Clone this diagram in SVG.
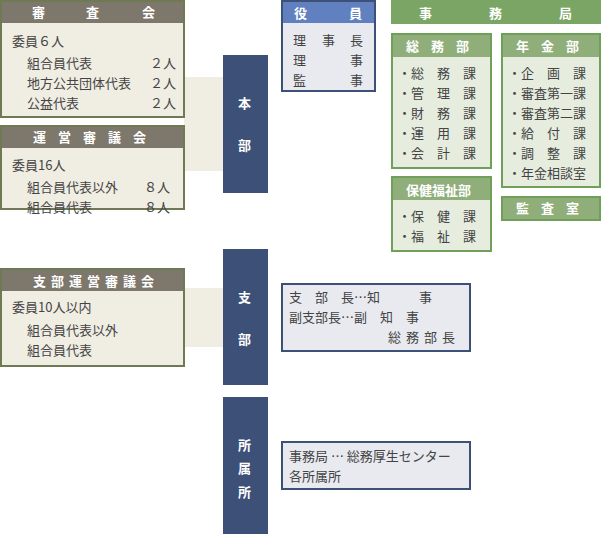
<svg xmlns="http://www.w3.org/2000/svg" width="601" height="534" viewBox="0 0 601 534">
<style>
text{font-family:"Noto Sans CJK JP","Noto Sans CJK SC",sans-serif;font-size:13px;fill:#444}
.h{fill:#fff;font-weight:bold}
.cb{fill:#f0ede3;stroke:#6f7a55;stroke-width:2}
.ch{fill:#7e786c}
.bl{fill:#3c5078}
.ob{fill:#e9eaf0;stroke:#3c5078;stroke-width:2}
.gb{fill:#e6eddf;stroke:#6fa05a;stroke-width:2}
.gh{fill:#8fae7a}
.gh2{fill:#7ba564}
</style>
<g id="connectors">
<rect x="184" y="77" width="40" height="94" fill="#f0ede3"/>
<rect x="184" y="288" width="40" height="59" fill="#f0ede3"/>
</g>
<g id="shinsakai">
<rect class="cb" x="1" y="1" width="183" height="116"/>
<rect class="ch" x="2" y="2" width="181" height="21"/>
<text class="h" x="32" y="17">審</text><text class="h" x="86" y="17">査</text><text class="h" x="142" y="17">会</text>
<text x="12" y="46">委員６人</text>
<text x="27" y="68">組合員代表</text><text x="150" y="68">２人</text>
<text x="27" y="88">地方公共団体代表</text><text x="150" y="88">２人</text>
<text x="27" y="108">公益代表</text><text x="150" y="108">２人</text>
</g>
<g id="uneishingikai">
<rect class="cb" x="1" y="126" width="183" height="83"/>
<rect class="ch" x="2" y="127" width="181" height="21"/>
<text class="h" x="33" y="142" letter-spacing="12">運営審議会</text>
<text x="12" y="170">委員16人</text>
<text x="27" y="192">組合員代表以外</text><text x="144" y="192">８人</text>
<text x="27" y="212">組合員代表</text><text x="144" y="212">８人</text>
</g>
<g id="shibu-council">
<rect class="cb" x="1" y="269" width="183" height="97"/>
<rect class="ch" x="2" y="270" width="181" height="21"/>
<text class="h" x="33" y="286" letter-spacing="5">支部運営審議会</text>
<text x="12" y="312">委員10人以内</text>
<text x="27" y="335">組合員代表以外</text>
<text x="27" y="355">組合員代表</text>
</g>
<g id="honbu">
<rect class="bl" x="223" y="55" width="45" height="138"/>
<text class="h" x="238" y="108">本</text><text class="h" x="238" y="150">部</text>
</g>
<g id="shibu">
<rect class="bl" x="223" y="249" width="45" height="136"/>
<text class="h" x="238" y="302">支</text><text class="h" x="238" y="344">部</text>
</g>
<g id="shozokusho">
<rect class="bl" x="223" y="397" width="45" height="137"/>
<text class="h" x="238" y="450">所</text><text class="h" x="238" y="473">属</text><text class="h" x="238" y="497">所</text>
</g>
<g id="yakuin">
<rect class="ob" x="282" y="1" width="93" height="90"/>
<rect x="283" y="2" width="91" height="21" fill="#6080c0"/>
<text class="h" x="294" y="18">役</text><text class="h" x="349" y="18">員</text>
<text x="293" y="45">理</text><text x="322" y="45">事</text><text x="350" y="45">長</text>
<text x="293" y="65">理</text><text x="350" y="65">事</text>
<text x="293" y="85">監</text><text x="350" y="85">事</text>
</g>
<g id="jimukyoku">
<rect class="gh2" x="391" y="0" width="210" height="24"/>
<text class="h" x="419" y="18">事</text><text class="h" x="489" y="18">務</text><text class="h" x="559" y="18">局</text>
</g>
<g id="somubu">
<rect class="gb" x="392" y="34" width="99" height="134"/>
<rect class="gh" x="393" y="35" width="97" height="22"/>
<text class="h" x="406" y="51" font-weight="normal" letter-spacing="12">総務部</text>
<text x="398" y="78">・総　務　課</text>
<text x="398" y="98">・管　理　課</text>
<text x="398" y="118">・財　務　課</text>
<text x="398" y="138">・運　用　課</text>
<text x="398" y="158">・会　計　課</text>
</g>
<g id="hokenfukushibu">
<rect class="gb" x="392" y="177" width="99" height="74"/>
<rect class="gh" x="393" y="178" width="97" height="22"/>
<text class="h" x="406" y="195" font-weight="normal">保健福祉部</text>
<text x="398" y="221">・保　健　課</text>
<text x="398" y="241">・福　祉　課</text>
</g>
<g id="nenkinbu">
<rect class="gb" x="502" y="34" width="98" height="153"/>
<rect class="gh" x="503" y="35" width="96" height="22"/>
<text class="h" x="516" y="51" font-weight="normal" letter-spacing="12">年金部</text>
<text x="508" y="78">・企　画　課</text>
<text x="508" y="98">・審査第一課</text>
<text x="508" y="118">・審査第二課</text>
<text x="508" y="138">・給　付　課</text>
<text x="508" y="158">・調　整　課</text>
<text x="508" y="178">・年金相談室</text>
</g>
<g id="kansashitsu">
<rect x="502" y="197" width="98" height="23" fill="#8fae7a" stroke="#6fa05a" stroke-width="2"/>
<text class="h" x="516" y="213" font-weight="normal" letter-spacing="12">監査室</text>
</g>
<g id="shibucho">
<rect class="ob" x="282" y="284" width="188" height="67"/>
<text x="289" y="302">支　部　長…知　　　事</text>
<text x="289" y="322">副支部長…副　知　事</text>
<text x="388" y="342" letter-spacing="5">総務部長</text>
</g>
<g id="jimukyoku-shozoku">
<rect class="ob" x="282" y="442" width="188" height="47"/>
<text x="289" y="461">事務局 … 総務厚生センター</text>
<text x="289" y="481">各所属所</text>
</g>
</svg>
